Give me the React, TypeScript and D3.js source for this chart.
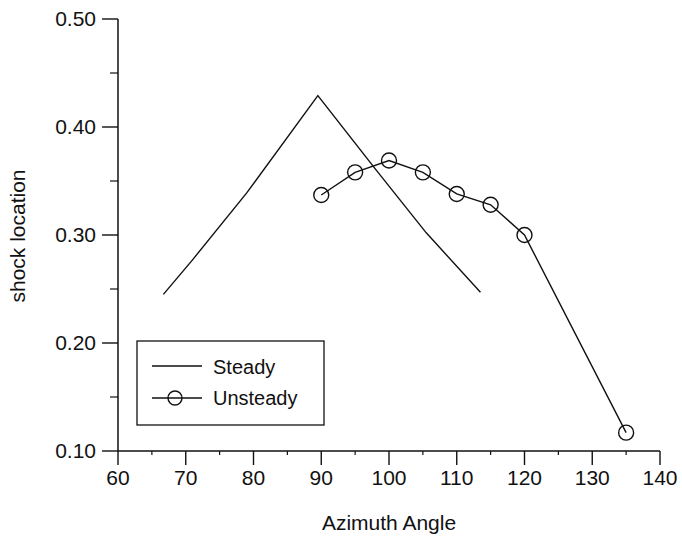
import React from "react";
import * as d3 from "d3";

// Steady solution: shock location along azimuth
const steadyAngle = [66.7, 71, 79, 89.5, 98, 105.5, 113.5];
const steadyLoc = [0.245, 0.277, 0.339, 0.429, 0.361, 0.302, 0.247];

// Unsteady solution samples
const unsteadyAngle = [90, 95, 100, 105, 110, 115, 120, 135];
const unsteadyLoc = [0.337, 0.358, 0.369, 0.358, 0.338, 0.328, 0.3, 0.117];

const xTicks = [60, 70, 80, 90, 100, 110, 120, 130, 140];
const xMinor = [65, 75, 85, 95, 105, 115, 125, 135];
const yTicks = [0.1, 0.2, 0.3, 0.4, 0.5];
const yMinor = [0.15, 0.25, 0.35, 0.45];

const seriesNames = ["Steady", "Unsteady"];

const W = 682;
const H = 537;
const FONT = "'Liberation Sans', Arial, Helvetica, sans-serif";

export default function App() {
  const x = d3.scaleLinear().domain([60, 140]).range([118, 660]);
  const y = d3.scaleLinear().domain([0.1, 0.5]).range([451, 19]);

  const line = d3
    .line<[number, number]>()
    .x((d) => x(d[0]))
    .y((d) => y(d[1]));

  const steady: [number, number][] = steadyAngle.map((a, i) => [a, steadyLoc[i]]);
  const unsteady: [number, number][] = unsteadyAngle.map((a, i) => [a, unsteadyLoc[i]]);

  const x0 = x(60);
  const y0 = y(0.1);
  const stroke = "#111";

  return (
    <svg
      width={W}
      height={H}
      style={{ position: "absolute", left: 0, top: 0, background: "#fff" }}
      fontFamily={FONT}
    >
      <rect x={0} y={0} width={W} height={H} fill="#fff" />

      {/* axes */}
      <line x1={x0} x2={x(140)} y1={y0} y2={y0} stroke={stroke} strokeWidth={1.5} />
      <line x1={x0} x2={x0} y1={y(0.5)} y2={y0} stroke={stroke} strokeWidth={1.5} />

      {xTicks.map((t) => (
        <g key={"xt" + t}>
          <line x1={x(t)} x2={x(t)} y1={y0} y2={y0 + 14} stroke={stroke} strokeWidth={1.4} />
          <text x={x(t)} y={485} textAnchor="middle" fontSize={21} fill="#111">
            {t}
          </text>
        </g>
      ))}
      {xMinor.map((t) => (
        <line key={"xm" + t} x1={x(t)} x2={x(t)} y1={y0} y2={y0 + 4} stroke={stroke} strokeWidth={1.2} />
      ))}

      {yTicks.map((t) => (
        <g key={"yt" + t}>
          <line x1={x0 - 16} x2={x0} y1={y(t)} y2={y(t)} stroke={stroke} strokeWidth={1.4} />
          <text
            x={x0 - 22}
            y={y(t)}
            dy="0.35em"
            textAnchor="end"
            fontSize={21}
            fill="#111"
          >
            {t.toFixed(2)}
          </text>
        </g>
      ))}
      {yMinor.map((t) => (
        <line key={"ym" + t} x1={x0 - 8} x2={x0} y1={y(t)} y2={y(t)} stroke={stroke} strokeWidth={1.2} />
      ))}

      {/* axis titles */}
      <text x={389} y={530} textAnchor="middle" fontSize={21} fill="#111">
        Azimuth Angle
      </text>
      <text
        transform={`translate(25, 236) rotate(-90)`}
        textAnchor="middle"
        fontSize={21}
        fill="#111"
      >
        shock location
      </text>

      {/* series */}
      <path d={line(steady) ?? ""} fill="none" stroke={stroke} strokeWidth={1.4} />
      <path d={line(unsteady) ?? ""} fill="none" stroke={stroke} strokeWidth={1.4} />
      {unsteady.map((d, i) => (
        <circle
          key={"u" + i}
          cx={x(d[0])}
          cy={y(d[1])}
          r={7.5}
          fill="none"
          stroke={stroke}
          strokeWidth={1.4}
        />
      ))}

      {/* legend */}
      <rect x={137} y={341} width={187} height={84} fill="#fff" stroke={stroke} strokeWidth={1.3} />
      <line x1={152} x2={202} y1={366} y2={366} stroke={stroke} strokeWidth={1.4} />
      <text x={213} y={374} fontSize={20} fill="#111">
        {seriesNames[0]}
      </text>
      <line x1={152} x2={202} y1={398} y2={398} stroke={stroke} strokeWidth={1.4} />
      <circle cx={175} cy={398} r={7} fill="none" stroke={stroke} strokeWidth={1.4} />
      <text x={213} y={405} fontSize={20} fill="#111">
        {seriesNames[1]}
      </text>
    </svg>
  );
}
